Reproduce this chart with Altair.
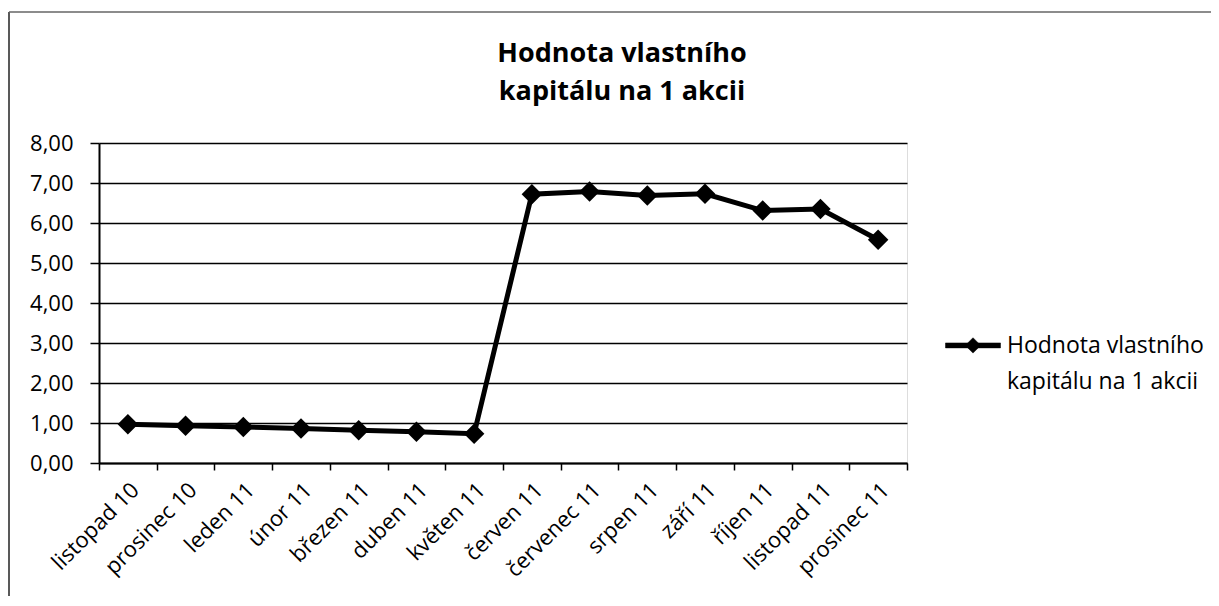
import altair as alt
import pandas as pd

months = ["listopad 10", "prosinec 10", "leden 11", "únor 11", "březen 11",
          "duben 11", "květen 11", "červen 11", "červenec 11", "srpen 11",
          "září 11", "říjen 11", "listopad 11", "prosinec 11"]
values = [0.97, 0.93, 0.90, 0.86, 0.82, 0.78, 0.73,
          6.72, 6.79, 6.69, 6.73, 6.31, 6.35, 5.58]
series_name = "Hodnota vlastního kapitálu na 1 akcii"
title_lines = ["Hodnota vlastního", "kapitálu na 1 akcii"]
legend_lines = ["Hodnota vlastního", "kapitálu na 1 akcii"]
y_ticks = [0, 1, 2, 3, 4, 5, 6, 7, 8]

df = pd.DataFrame({"month": months, "value": values, "series": series_name})

FONT = "Open Sans"

x_enc = alt.X(
    "month:N", sort=months, title=None,
    scale=alt.Scale(type="band", paddingInner=0, paddingOuter=0),
    axis=alt.Axis(
        tickBand="extent", labelAngle=-45, labelFont=FONT, labelFontSize=22,
        labelColor="black", tickColor="black", tickSize=7, tickWidth=1.5,
        domainColor="black", domainWidth=2, labelPadding=9, grid=False,
    ),
)
y_enc = alt.Y(
    "value:Q", title=None,
    scale=alt.Scale(domain=[0, 8]),
    axis=alt.Axis(
        values=y_ticks, labelExpr="replace(format(datum.value, '.2f'), '.', ',')",
        labelFont=FONT, labelFontSize=22, labelColor="black",
        tickColor="black", tickSize=9, tickWidth=1.5,
        domainColor="black", domainWidth=2, labelPadding=17,
        grid=True, gridColor="black", gridWidth=1.5,
    ),
)

legend_symbol = ("M-1,-0.73L1,-0.73L1,-0.55L-1,-0.55Z "
                 "M-0.28,-0.64L0,-0.92L0.28,-0.64L0,-0.36Z")

line = alt.Chart(df).mark_line(strokeWidth=5).encode(
    x=x_enc, y=y_enc,
    color=alt.Color(
        "series:N", scale=alt.Scale(range=["black"]),
        legend=alt.Legend(
            orient="none", legendX=846, legendY=192, padding=0,
            symbolType=legend_symbol, symbolSize=3025, symbolStrokeWidth=0.5,
            symbolFillColor="black", symbolStrokeColor="black",
            labelExpr="''", labelOffset=0,
            title=legend_lines, titleOrient="right", titleAnchor="start",
            titleBaseline="top", titleLineHeight=36, titleFont=FONT,
            titleFontSize=23, titleFontWeight="normal", titleColor="black",
            titlePadding=5, titleLimit=400,
        ),
    ),
)

points = alt.Chart(df).mark_point(shape="diamond", filled=True, size=420,
                                  color="black", opacity=1).encode(x=x_enc, y=y_enc)

frame_df = pd.DataFrame({"k": [0]})
frame_left = alt.Chart(frame_df).mark_rule(color="#222", strokeWidth=1.5).encode(
    x=alt.value(-90), y=alt.value(-131), y2=alt.value(455))
frame_top = alt.Chart(frame_df).mark_rule(color="#666", strokeWidth=1.5).encode(
    x=alt.value(-90), x2=alt.value(1130), y=alt.value(-131))

chart = alt.layer(frame_left, frame_top, line, points).properties(
    width=808, height=320,
    title=alt.Title(
        text=title_lines, font=FONT, fontSize=27, fontWeight="bold", color="black",
        anchor="middle", frame="group", dx=119, dy=95, offset=0, lineHeight=38,
    ),
    autosize=alt.AutoSizeParams(type="none"),
    padding={"left": 91, "top": 135, "right": 304, "bottom": 133},
).configure_view(stroke=None).configure(background="white")

chart.save("out.html", embed_options={"renderer": "svg", "actions": False})
